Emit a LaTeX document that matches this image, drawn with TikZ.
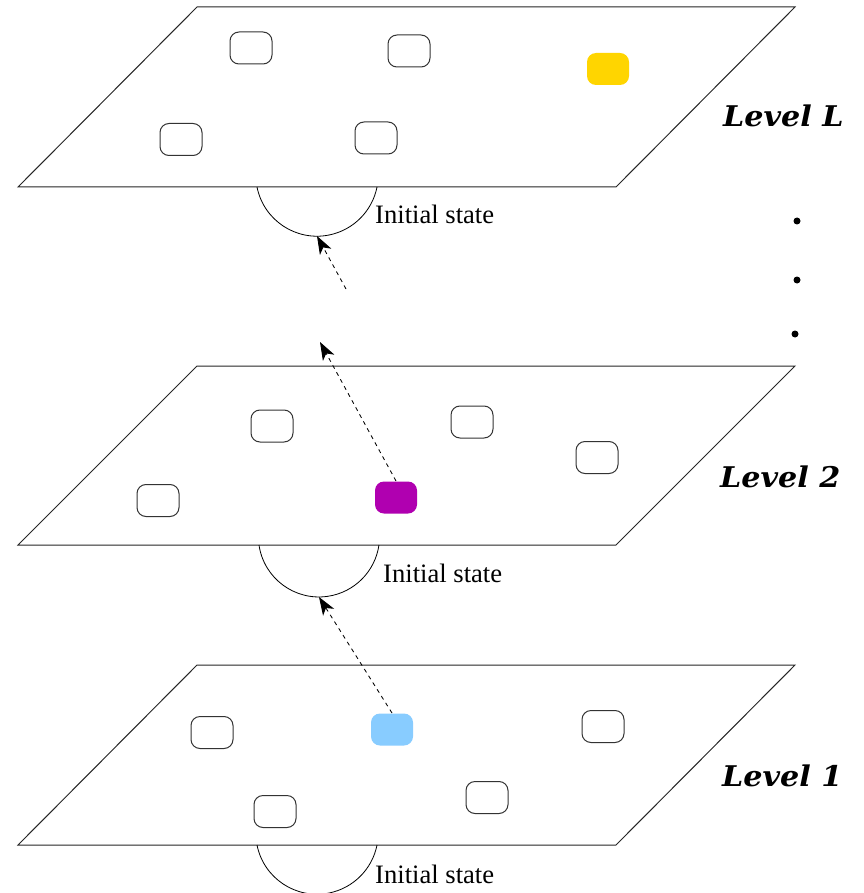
\documentclass[tikz,border=0pt]{standalone}
\usepackage{fontspec}
\setmainfont{Liberation Serif}
\newfontfamily\lvlfont{DejaVu Serif}[FakeStretch=1.06]
\usetikzlibrary{arrows.meta}
\definecolor{gold}{HTML}{FFD500}
\definecolor{purp}{HTML}{B000B0}
\definecolor{skyb}{HTML}{88CCFF}
\begin{document}
\begin{tikzpicture}[x=1pt,y=-1pt,
  plane/.style={draw=black!85,line width=1pt,fill=white,line join=miter},
  box/.style={draw=black!80,line width=1pt,rounded corners=9pt,minimum width=42pt,minimum height=32pt,inner sep=0pt},
  fbox/.style={box,draw=none},
  initarc/.style={draw=black,line width=0.8pt},
  lbl/.style={font=\fontsize{26.6}{30}\selectfont,anchor=base west,inner sep=0pt},
  lvl/.style={font=\lvlfont\bfseries\itshape\fontsize{28.5}{33}\selectfont,anchor=base west,inner sep=0pt},
  dasharrow/.style={draw=black,line width=0.85pt,dash pattern=on 4pt off 4pt,-{Stealth[length=18pt,width=13pt,inset=5pt]}},
  dotst/.style={fill=black,circle,inner sep=0pt,minimum size=7pt}
]
\useasboundingbox (0,0) rectangle (863,893);
% planes
\draw[plane] (197,7) -- (795,7) -- (616,187) -- (18,187) -- cycle;
\draw[plane] (197,366) -- (795,366) -- (616,545) -- (18,545) -- cycle;
\draw[plane] (197,665) -- (795,665) -- (616,845) -- (18,845) -- cycle;
% arcs
\draw[initarc] (257,187) arc[start angle=168.7,end angle=11.3,radius=61.2];
\coordinate (arcL) at (317,236);
\draw[initarc] (259,545) arc[start angle=171.8,end angle=8.2,radius=60.6];
\coordinate (arc2) at (319,597);
\begin{scope}
\clip (0,0) rectangle (863,893);
\draw[initarc] (257,845) arc[start angle=168.7,end angle=11.3,radius=61.2];
\end{scope}
% Level L boxes
\node[box] (lLa) at (251,48) {};
\node[box] (lLb) at (409,51) {};
\node[fbox,fill=gold] (lLy) at (608,69) {};
\node[box] (lLc) at (181,139.5) {};
\node[box] (lLd) at (376,138) {};
% Level 2 boxes
\node[box] (l2a) at (272,426) {};
\node[box] (l2b) at (472,422) {};
\node[box] (l2c) at (597,457.5) {};
\node[box] (l2d) at (158,500.5) {};
\node[fbox,fill=purp] (l2p) at (396,497.5) {};
% Level 1 boxes
\node[box] (l1a) at (212,732.5) {};
\node[fbox,fill=skyb] (l1b) at (392,729.5) {};
\node[box] (l1c) at (603,726.5) {};
\node[box] (l1d) at (487,797.5) {};
\node[box] (l1e) at (275,811.5) {};
% labels
\node[lbl] (isL) at (375,223) {Initial state};
\node[lbl] (is2) at (383,582) {Initial state};
\node[lbl] (is1) at (375,883) {Initial state};
\node[lvl] (lvL) at (723,127) {Level L};
\node[lvl] (lv2) at (720,487) {Level 2};
\node[lvl] (lv1) at (722,786) {Level 1};
% dots
\node[dotst] (d1) at (797,221) {};
\node[dotst] (d2) at (797,280) {};
\node[dotst] (d3) at (795,334) {};
% arrows
\coordinate (t3) at (346,289);
\coordinate (h2) at (320,342);
\draw[dasharrow] (l1b.north) -- (arc2);
\draw[dasharrow] (l2p.north) -- (h2);
\draw[dasharrow] (t3) -- (arcL);
\end{tikzpicture}
\end{document}
